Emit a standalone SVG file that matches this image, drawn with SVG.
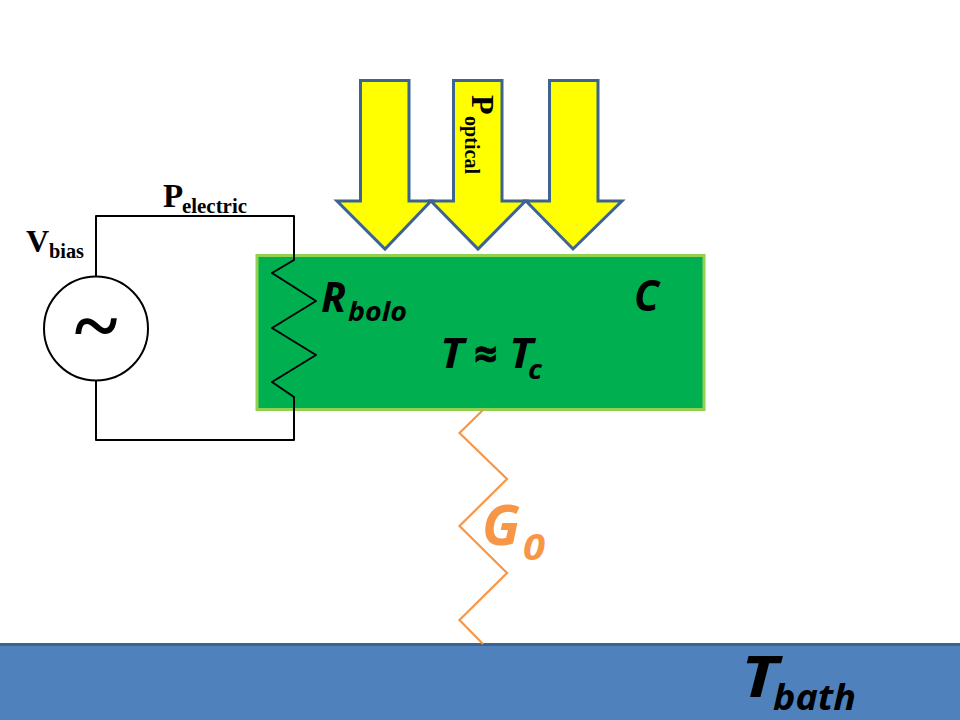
<svg xmlns="http://www.w3.org/2000/svg" width="960" height="720" viewBox="0 0 960 720">
<style>
.arrow{fill:#ffff00;stroke:#3d6491;stroke-width:3}
.wire{fill:none;stroke:#000;stroke-width:2;stroke-linejoin:round}
.spring{fill:none;stroke:#f79646;stroke-width:2.200}
.serif{font-family:"Liberation Serif",serif;font-weight:700;fill:#000}
.sans{font-family:"Open Sans","Noto Sans",sans-serif;font-weight:700;font-style:italic;fill:#000}
.orange{fill:#f79646}
</style>
<rect width="960" height="720" fill="#fff"/>
<g id="bath">
<rect x="-2" y="644.500" width="964" height="78" fill="#4f81bd" stroke="#3d6491" stroke-width="3"/>
<text class="sans" font-size="57"><tspan x="741" y="697" textLength="37" lengthAdjust="spacingAndGlyphs">T</tspan><tspan x="773" y="709.500" font-size="35" textLength="83" lengthAdjust="spacingAndGlyphs">bath</tspan></text>
</g>
<g id="bolometer">
<rect x="257" y="255.500" width="447" height="154" fill="#00b050" stroke="#92d050" stroke-width="3"/>
<text class="sans" font-size="42"><tspan x="321" y="312" textLength="25" lengthAdjust="spacingAndGlyphs">R</tspan><tspan x="348" y="321" font-size="27" textLength="59" lengthAdjust="spacingAndGlyphs">bolo</tspan></text>
<text class="sans" x="634" y="311" font-size="43" textLength="25" lengthAdjust="spacingAndGlyphs">C</text>
<text class="sans" font-size="42"><tspan x="440" y="368" textLength="24" lengthAdjust="spacingAndGlyphs">T</tspan><tspan x="474" y="369" font-size="42" textLength="23" lengthAdjust="spacingAndGlyphs" stroke="#000" stroke-width="0.800">≈</tspan><tspan x="509" y="368" textLength="24" lengthAdjust="spacingAndGlyphs">T</tspan><tspan x="528" y="379" font-size="27" textLength="14" lengthAdjust="spacingAndGlyphs">c</tspan></text>
</g>
<g id="connectors">
<path class="wire" d="M96 277V216H294V260L272 273L316 301L272 328L316 355L272 382L294 397V440H96V380"/>
<path class="spring" d="M483 410L459.500 433L507 479L459.500 526L507 573L459.500 620L483 644"/>
</g>
<g id="source">
<circle cx="96" cy="328.500" r="52" fill="#fff" stroke="#000" stroke-width="2"/>
<text class="serif" x="96" y="353" font-size="82" text-anchor="middle">~</text>
</g>
<g id="arrow-1"><path class="arrow" d="M360.500 80.500H409V201H431L385 249L337 201H360.500Z"/></g>
<g id="arrow-2"><path class="arrow" d="M453.500 80.500H502V201H525.500L478 249L431 201H453.500Z"/>
<text class="serif" transform="translate(472 95) rotate(90)" font-size="32"><tspan x="0" y="0">P</tspan><tspan x="21" y="7" font-size="21" textLength="58" lengthAdjust="spacingAndGlyphs">optical</tspan></text>
</g>
<g id="arrow-3"><path class="arrow" d="M549.500 80.500H598V201H622L573 249L526 201H549.500Z"/></g>
<g id="label-vbias">
<text class="serif" font-size="32"><tspan x="26" y="252">V</tspan><tspan x="49" y="258" font-size="20" textLength="35" lengthAdjust="spacingAndGlyphs">bias</tspan></text>
</g>
<g id="label-pelectric">
<text class="serif" font-size="33"><tspan x="163" y="207">P</tspan><tspan x="182" y="213" font-size="20" textLength="65" lengthAdjust="spacingAndGlyphs">electric</tspan></text>
</g>
<g id="label-g0">
<text class="sans orange" font-size="55"><tspan class="orange" x="482" y="545" textLength="38" lengthAdjust="spacingAndGlyphs">G</tspan><tspan class="orange" x="523" y="560" font-size="36" textLength="22" lengthAdjust="spacingAndGlyphs">0</tspan></text>
</g>
</svg>
